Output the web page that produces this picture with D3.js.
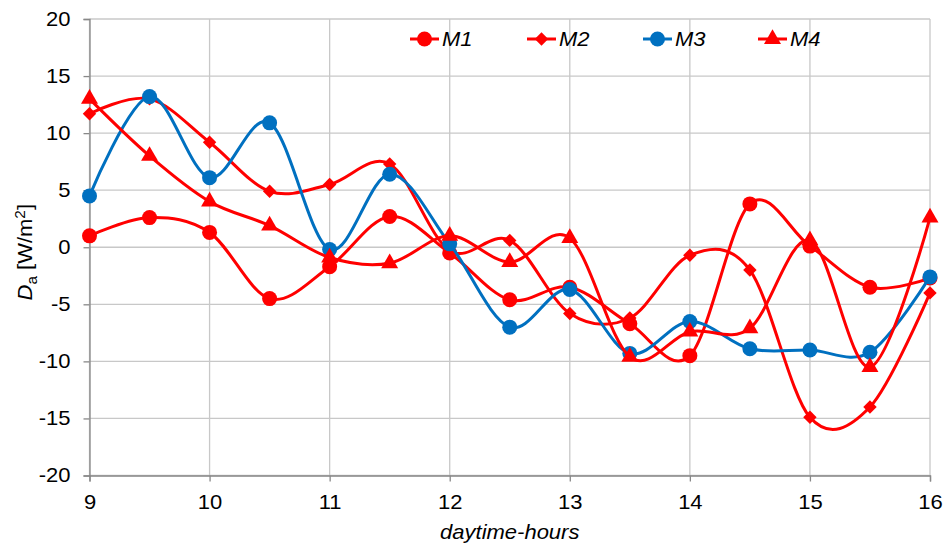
<!DOCTYPE html>
<html><head><meta charset="utf-8">
<script src="https://cdn.jsdelivr.net/npm/d3@7/dist/d3.min.js"></script>
<style>body{margin:0;background:#fff;} text{font-family:"Liberation Sans",Arial,sans-serif;}</style>
</head><body>
<svg id="c" width="946" height="545"></svg>
<script>
const hours = [9,9.5,10,10.5,11,11.5,12,12.5,13,13.5,14,14.5,15,15.5,16];
const M1 = [1.0,2.6,1.3,-4.5,-1.7,2.7,-0.5,-4.6,-3.5,-6.7,-9.5,3.8,0.1,-3.5,-2.7];
const M2 = [11.7,13.0,9.2,4.9,5.5,7.3,-0.3,0.6,-5.8,-6.2,-0.7,-2.0,-14.9,-14.0,-4.0];
const M3 = [4.5,13.2,6.1,10.9,-0.2,6.4,0.3,-7.0,-3.7,-9.3,-6.5,-8.9,-9.0,-9.2,-2.6];
const M4 = [13.0,8.0,4.0,1.9,-0.9,-1.4,1.0,-1.3,0.8,-9.6,-7.4,-7.1,0.6,-10.5,2.6];
const seriesNames = ["M1","M2","M3","M4"];
const xTicks = [9,10,11,12,13,14,15,16];
const yTicks = [-20,-15,-10,-5,0,5,10,15,20];

const series = [
  {name:seriesNames[0], values:M1, color:"#FF0000", marker:"circle"},
  {name:seriesNames[1], values:M2, color:"#FF0000", marker:"diamond"},
  {name:seriesNames[2], values:M3, color:"#0070C0", marker:"circle"},
  {name:seriesNames[3], values:M4, color:"#FF0000", marker:"triangle"}
];

const SX = 1.1; // horizontal text stretch
const svg = d3.select("#c");
const L=89.5, R=930, T=19, B=475.5;
const x = d3.scaleLinear().domain([9,16]).range([L,R]);
const y = d3.scaleLinear().domain([-20,20]).range([B,T]);

// grid
const g = svg.append("g");
g.selectAll(".vg").data(xTicks).join("line")
  .attr("x1",d=>x(d)).attr("x2",d=>x(d)).attr("y1",T).attr("y2",B)
  .attr("stroke","#C8C8C8").attr("stroke-width",1.3);
g.selectAll(".hg").data(yTicks).join("line")
  .attr("x1",L).attr("x2",R).attr("y1",d=>y(d)).attr("y2",d=>y(d))
  .attr("stroke","#C8C8C8").attr("stroke-width",1.3);

// axes
const xAxis = d3.axisBottom(x).tickValues(xTicks).tickSize(6).tickPadding(13.5).tickFormat(d3.format("d"));
const yAxis = d3.axisLeft(y).tickValues(yTicks).tickSize(6).tickPadding(13).tickFormat(d=>d<0?"-"+Math.abs(d):d);
const xa = svg.append("g").attr("transform",`translate(0,${B})`).call(xAxis);
const ya = svg.append("g").attr("transform",`translate(${L},0)`).call(yAxis);
[xa,ya].forEach(a=>{
  a.select(".domain").attr("stroke","#888").attr("stroke-width",1.3);
  a.selectAll(".tick line").attr("stroke","#888").attr("stroke-width",1.3);
  a.selectAll(".tick text").attr("fill","#000").style("font-size","20px").style("font-family","'Liberation Sans',Arial,sans-serif");
});
xa.selectAll(".tick text").attr("transform",`scale(${SX},1)`);
ya.selectAll(".tick text").attr("x",-19/SX).attr("transform",`scale(${SX},1)`);

// symbols
function drawMarker(sel, type, color){
  if(type==="circle"){
    sel.append("circle").attr("r",7.5).attr("fill",color);
  } else if(type==="diamond"){
    sel.append("path").attr("d",d3.symbol(d3.symbolSquare,90)()).attr("transform","rotate(45)").attr("fill",color);
  } else {
    sel.append("path").attr("d",d3.symbol(d3.symbolTriangle,125)()).attr("fill",color);
  }
}

const line = d3.line().x(d=>x(d[0])).y(d=>y(d[1])).curve(d3.curveCardinal.tension(0));
series.forEach(s=>{
  const pts = hours.map((h,i)=>[h,s.values[i]]);
  svg.append("path").datum(pts).attr("d",line).attr("fill","none")
    .attr("stroke",s.color).attr("stroke-width",3);
  pts.forEach(p=>{
    const m = svg.append("g").attr("transform",`translate(${x(p[0])},${y(p[1])})`);
    drawMarker(m, s.marker, s.color);
  });
});

// legend
const legX = [410,527,643,758];
series.forEach((s,i)=>{
  const lg = svg.append("g").attr("transform",`translate(${legX[i]},39)`);
  lg.append("line").attr("x1",0).attr("x2",29).attr("y1",0).attr("y2",0).attr("stroke",s.color).attr("stroke-width",3);
  const m = lg.append("g").attr("transform","translate(14.5,0)");
  drawMarker(m, s.marker, s.color);
  lg.append("text").attr("transform",`translate(32,7) scale(${SX},1)`).style("font-size","20px").style("font-style","italic").text(s.name);
});

// axis titles
svg.append("text").attr("transform",`translate(${(L+R)/2},539) scale(${SX},1)`).attr("text-anchor","middle")
  .style("font-size","20px").style("font-style","italic").text("daytime-hours");
const yt = svg.append("text").attr("transform",`translate(32,${(T+B)/2 + 5}) rotate(-90) scale(${SX},1)`).attr("text-anchor","middle")
  .style("font-size","20px");
yt.append("tspan").style("font-style","italic").text("D");
yt.append("tspan").attr("dy",5).style("font-size","14px").text("a");
yt.append("tspan").attr("dy",-5).text(" [W/m");
yt.append("tspan").attr("dy",-7).style("font-size","14px").text("2");
yt.append("tspan").attr("dy",7).text("]");
</script>
</body></html>
